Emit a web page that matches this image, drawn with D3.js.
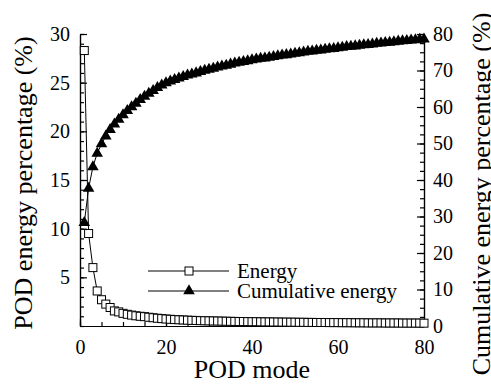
<!DOCTYPE html>
<html>
<head>
<meta charset="utf-8">
<script src="https://cdn.jsdelivr.net/npm/d3@7"></script>
<style>
  body { margin: 0; background: #fff; }
  svg { display: block; }
  svg text { font-family: "Liberation Serif", "Times New Roman", "DejaVu Serif", serif; }
</style>
</head>
<body>
<div class="chart"></div>
<script>
const width = 491;
const height = 388;
const margin = { top: 34, bottom: 62, left: 80, right: 67 };
const innerWidth = width - margin.left - margin.right;
const innerHeight = height - margin.top - margin.bottom;
const serif = "'Liberation Serif', 'Times New Roman', 'DejaVu Serif', serif";

// POD energy per mode (%), mode 1..80
const energy = [
  28.3, 9.5, 6.0, 3.6, 2.7, 2.25, 1.9, 1.55, 1.45, 1.3,
  1.2, 1.12, 1.05, 1.0, 0.96, 0.9, 0.85, 0.8, 0.76, 0.72,
  0.69, 0.66, 0.64, 0.62, 0.6, 0.58, 0.57, 0.55, 0.54, 0.53,
  0.52, 0.51, 0.5, 0.49, 0.48, 0.47, 0.46, 0.46, 0.45, 0.44,
  0.44, 0.43, 0.42, 0.42, 0.41, 0.41, 0.40, 0.40, 0.39, 0.39,
  0.38, 0.38, 0.37, 0.37, 0.36, 0.36, 0.36, 0.35, 0.35, 0.35,
  0.34, 0.34, 0.34, 0.33, 0.33, 0.33, 0.32, 0.32, 0.32, 0.32,
  0.31, 0.31, 0.31, 0.31, 0.30, 0.30, 0.30, 0.30, 0.30, 0.29
];
// cumulative energy (%), mode 1..80
const cumulative = [
  28.3, 37.7, 43.6, 47.3, 49.9, 52.0, 53.8, 55.3, 56.6, 57.8,
  59.0, 60.0, 61.0, 62.0, 62.9, 63.7, 64.5, 65.3, 66.0, 66.6,
  67.1, 67.5, 67.9, 68.3, 68.7, 69.0, 69.3, 69.7, 70.0, 70.3,
  70.6, 70.9, 71.2, 71.4, 71.7, 72.0, 72.2, 72.4, 72.6, 72.9,
  73.1, 73.3, 73.4, 73.6, 73.8, 74.0, 74.2, 74.3, 74.5, 74.7,
  74.8, 75.0, 75.2, 75.3, 75.5, 75.6, 75.8, 75.9, 76.0, 76.2,
  76.3, 76.5, 76.6, 76.7, 76.9, 77.0, 77.1, 77.2, 77.4, 77.5,
  77.6, 77.7, 77.8, 78.0, 78.1, 78.2, 78.3, 78.4, 78.5, 78.6
];
const modes = d3.range(1, 81);

const xTicks = [0, 20, 40, 60, 80];
const yLeftTicks = [5, 10, 15, 20, 25, 30];
const yRightTicks = [0, 10, 20, 30, 40, 50, 60, 70, 80];

const svg = d3.select("div.chart")
  .append("svg")
  .attr("width", width)
  .attr("height", height)
  .attr("font-family", serif);

const x = d3.scaleLinear().domain([0, 80]).range([margin.left, margin.left + innerWidth]);
const yL = d3.scaleLinear().domain([0, 30]).range([margin.top + innerHeight, margin.top]);
const yR = d3.scaleLinear().domain([0, 80]).range([margin.top + innerHeight, margin.top]);

// axes: major ticks plus minor ones, all pointing inward
function styleAxis(g) {
  g.attr("font-family", serif).attr("font-size", 20);
  g.select(".domain").attr("stroke", "#000").attr("stroke-width", 1.2);
  g.selectAll(".tick line").attr("stroke", "#000").attr("stroke-width", 1.2);
  g.selectAll(".tick text").attr("fill", "#000");
}

// bottom
svg.append("g")
  .attr("transform", `translate(0,${margin.top + innerHeight})`)
  .call(d3.axisBottom(x).tickValues(d3.range(0, 81, 5)).tickSizeInner(-4).tickSizeOuter(0).tickFormat(""))
  .call(styleAxis);
svg.append("g")
  .attr("transform", `translate(0,${margin.top + innerHeight})`)
  .call(d3.axisBottom(x).tickValues(xTicks).tickSizeInner(-7).tickSizeOuter(0).tickPadding(14).tickFormat(d3.format("d")))
  .call(styleAxis);

// left
svg.append("g")
  .attr("transform", `translate(${margin.left},0)`)
  .call(d3.axisLeft(yL).tickValues(d3.range(0, 31, 1)).tickSizeInner(-4).tickSizeOuter(0).tickFormat(""))
  .call(styleAxis);
svg.append("g")
  .attr("transform", `translate(${margin.left},0)`)
  .call(d3.axisLeft(yL).tickValues(yLeftTicks).tickSizeInner(-7).tickSizeOuter(0).tickPadding(10).tickFormat(d3.format("d")))
  .call(styleAxis);

// right
svg.append("g")
  .attr("transform", `translate(${margin.left + innerWidth},0)`)
  .call(d3.axisRight(yR).tickValues(d3.range(0, 81, 2.5)).tickSizeInner(-4).tickSizeOuter(0).tickFormat(""))
  .call(styleAxis);
svg.append("g")
  .attr("transform", `translate(${margin.left + innerWidth},0)`)
  .call(d3.axisRight(yR).tickValues(yRightTicks).tickSizeInner(-7).tickSizeOuter(0).tickPadding(9).tickFormat(d3.format("d")))
  .call(styleAxis);

// series
const energyLine = d3.line().x((d, i) => x(modes[i])).y(d => yL(d));
const cumLine = d3.line().x((d, i) => x(modes[i])).y(d => yR(d));

svg.append("path")
  .attr("d", energyLine(energy))
  .attr("fill", "none").attr("stroke", "#000").attr("stroke-width", 1);

const sq = 8;
svg.append("g").selectAll("rect")
  .data(energy)
  .join("rect")
  .attr("x", (d, i) => x(modes[i]) - sq / 2)
  .attr("y", d => yL(d) - sq / 2)
  .attr("width", sq).attr("height", sq)
  .attr("fill", "#fff").attr("stroke", "#000").attr("stroke-width", 1);

svg.append("path")
  .attr("d", cumLine(cumulative))
  .attr("fill", "none").attr("stroke", "#000").attr("stroke-width", 1);

const tri = d3.symbol().type(d3.symbolTriangle).size(58);
svg.append("g").selectAll("path")
  .data(cumulative)
  .join("path")
  .attr("transform", (d, i) => `translate(${x(modes[i])},${yR(d)})`)
  .attr("d", tri)
  .attr("fill", "#000");

// legend
const legend = svg.append("g").attr("font-size", 21);
const legendItems = ["Energy", "Cumulative energy"];
legendItems.forEach((name, i) => {
  const ly = 271 + i * 20;
  legend.append("line")
    .attr("x1", 148).attr("x2", 229).attr("y1", ly).attr("y2", ly)
    .attr("stroke", "#000").attr("stroke-width", 1);
  if (i === 0) {
    legend.append("rect")
      .attr("x", 189 - sq / 2).attr("y", ly - sq / 2)
      .attr("width", sq).attr("height", sq)
      .attr("fill", "#fff").attr("stroke", "#000");
  } else {
    legend.append("path")
      .attr("transform", `translate(189,${ly})`)
      .attr("d", tri).attr("fill", "#000");
  }
  legend.append("text")
    .attr("x", 237).attr("y", ly + 7)
    .text(name);
});

// axis titles
svg.append("text")
  .attr("x", margin.left + innerWidth / 2).attr("y", 378)
  .attr("text-anchor", "middle").attr("font-size", 26)
  .text("POD mode");
svg.append("text")
  .attr("transform", "translate(32,183) rotate(-90)")
  .attr("text-anchor", "middle").attr("font-size", 26)
  .text("POD energy percentage (%)");
svg.append("text")
  .attr("transform", "translate(490,194) rotate(-90)")
  .attr("text-anchor", "middle").attr("font-size", 26)
  .text("Cumulative energy percentage (%)");
</script>
</body>
</html>
